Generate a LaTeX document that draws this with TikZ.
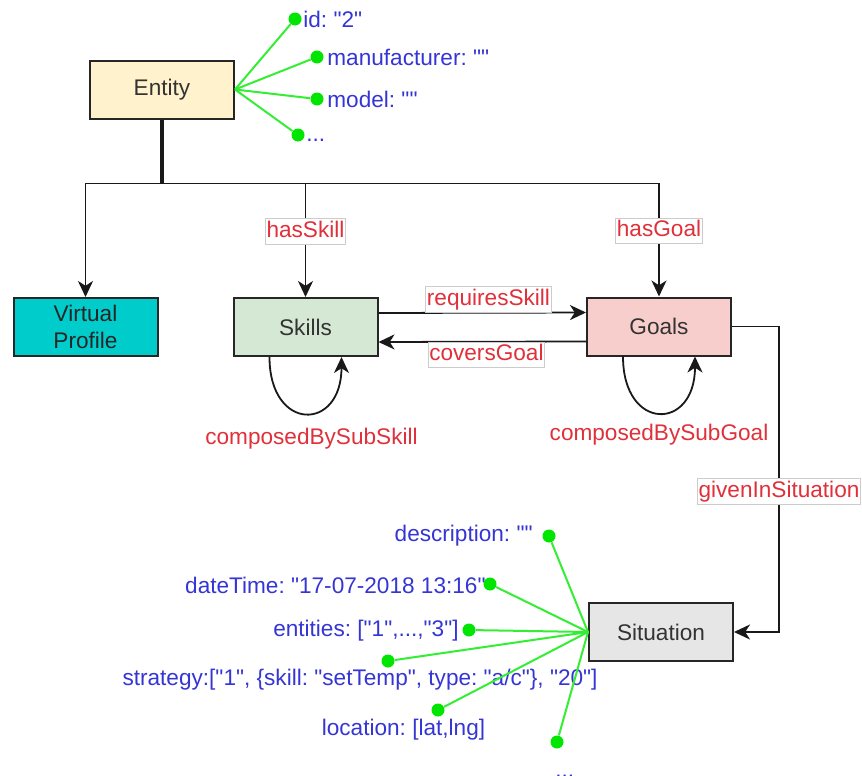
\documentclass[tikz,border=0pt]{standalone}
\usepackage{fontspec}
\setmainfont{Liberation Sans}[Ligatures=TeXOff]
\usetikzlibrary{arrows.meta, calc, positioning}
\frenchspacing

\definecolor{entityfill}{HTML}{FFF2CC}
\definecolor{profilefill}{HTML}{00CCCC}
\definecolor{skillfill}{HTML}{D5E8D4}
\definecolor{goalfill}{HTML}{F8CECC}
\definecolor{situfill}{HTML}{E6E6E6}
\definecolor{boxtext}{HTML}{333333}
\definecolor{relred}{HTML}{E0303A}
\definecolor{attrblue}{HTML}{3535D5}
\definecolor{attrgreen}{HTML}{33EE33}
\definecolor{dotgreen}{HTML}{00E600}

\begin{document}
\begin{tikzpicture}[x=0.5pt, y=-0.5pt,
    >={Stealth[length=8pt, width=7.5pt, inset=2.4pt]},
    font=\fontsize{11.3}{13.8}\selectfont,
    box/.style={draw=black!85, line width=1pt, minimum width=72pt, minimum height=29pt,
        text=boxtext, align=center, inner sep=0pt},
    link/.style={->, line width=0.9pt, draw=black!90},
    stem/.style={line width=1.7pt, draw=black!90},
    rel/.style={draw=black!20, fill=white, text=relred, line width=0.4pt,
        inner xsep=0.6pt, inner ysep=1pt, text height=8.4pt, text depth=2.4pt},
    looplbl/.style={text=relred, inner sep=0pt},
    attr/.style={draw=attrgreen, line width=1pt},
    dot/.style={circle, fill=dotgreen, inner sep=0pt, minimum size=6.5pt},
    attrtext/.style={text=attrblue, inner sep=0pt}]
    \useasboundingbox (0,0) rectangle (862,776);

    % === Classes ===
    \node[box, fill=entityfill] (Entity) at (162,89.5) {Entity};
    \node[box, fill=profilefill, text=black!85] (Profile) at (85.5,327) {Virtual\\Profile};
    \node[box, fill=skillfill] (Skills) at (305.5,327) {Skills};
    \node[box, fill=goalfill] (Goals) at (659,326.5) {Goals};
    \node[box, fill=situfill] (Situation) at (661,632) {Situation};

    % === Entity attributes ===
    \node[dot] (eid) at (295,19) {};
    \node[dot] (eman) at (317,57) {};
    \node[dot] (emod) at (317,99) {};
    \node[dot] (emore) at (298,135) {};
    \node[attrtext, anchor=west] (tid) at (303,19) {id: "2"};
    \node[attrtext, anchor=west] (tman) at (327,57) {manufacturer: ""};
    \node[attrtext, anchor=west] (tmod) at (327,99) {model: ""};
    \node[attrtext, anchor=base west] (tmore) at (306,141) {...};
    \draw[attr] (Entity.east) -- (eid);
    \draw[attr] (Entity.east) -- (eman);
    \draw[attr] (Entity.east) -- (emod);
    \draw[attr] (Entity.east) -- (emore);

    % === Entity relations ===
    \coordinate (bus) at ($(Entity.south)+(0,64)$);
    \draw[stem] (Entity.south) -- (bus);
    \draw[link] (bus) -| (Profile.north);
    \draw[link] (bus) -| node[rel, pos=0.71] (hasskill) {hasSkill} (Skills.north);
    \draw[link] (bus) -| node[rel, pos=0.71] (hasgoal) {hasGoal} (Goals.north);

    % === Skills <-> Goals ===
    \draw[link] ([yshift=7pt]Skills.east) -- node[rel, above=0pt, pos=0.53] (req) {requiresSkill} ([yshift=7pt]Goals.west);
    \draw[link] ([yshift=-7.5pt]Goals.west) -- node[rel, below=0pt, pos=0.48] (cov) {coversGoal} ([yshift=-7.5pt]Skills.east);

    % Self loops
    \draw[link] ([xshift=-18pt]Skills.south) .. controls +(0,75) and +(0,75) .. node[looplbl, below=7pt, xshift=3pt] (subskill) {composedBySubSkill} ([xshift=18pt]Skills.south);
    \draw[link] ([xshift=-18pt]Goals.south) .. controls +(0,75) and +(0,75) .. node[looplbl, below=5pt] (subgoal) {composedBySubGoal} ([xshift=18pt]Goals.south);

    % Goals -> Situation
    \draw[link] (Goals.east) -- ++(47,0) |- node[rel, pos=0.27] (insit) {givenInSituation} (Situation.east);

    % === Situation attributes ===
    \node[attrtext, anchor=east] (tdesc) at (533,536) {description: ""};
    \node[attrtext, anchor=east] (tdate) at (486,585) {dateTime: "17-07-2018 13:16"};
    \node[attrtext, anchor=east] (tent) at (459,631) {entities: ["1",...,"3"]};
    \node[attrtext] (tstrat) at (360,680) {strategy:["1", \{skill: "setTemp", type: "a/c"\}, "20"]};
    \node[attrtext] (tloc) at (403.5,730) {location: [lat,lng]};
    \node[attrtext, anchor=base west] (tsmore) at (555,777) {...};
    \node[dot] (sdesc) at (549,536) {};
    \node[dot] (sdate) at (490,584) {};
    \node[dot] (sent) at (469,630) {};
    \node[dot] (sstrat) at (388,661) {};
    \node[dot] (sloc) at (438,710) {};
    \node[dot] (smore) at (557,742) {};
    \draw[attr] (Situation.west) -- (sdesc);
    \draw[attr] (Situation.west) -- (sdate);
    \draw[attr] (Situation.west) -- (sent);
    \draw[attr] (Situation.west) -- (sstrat);
    \draw[attr] (Situation.west) -- (sloc);
    \draw[attr] (Situation.west) -- (smore);
\end{tikzpicture}
\end{document}
